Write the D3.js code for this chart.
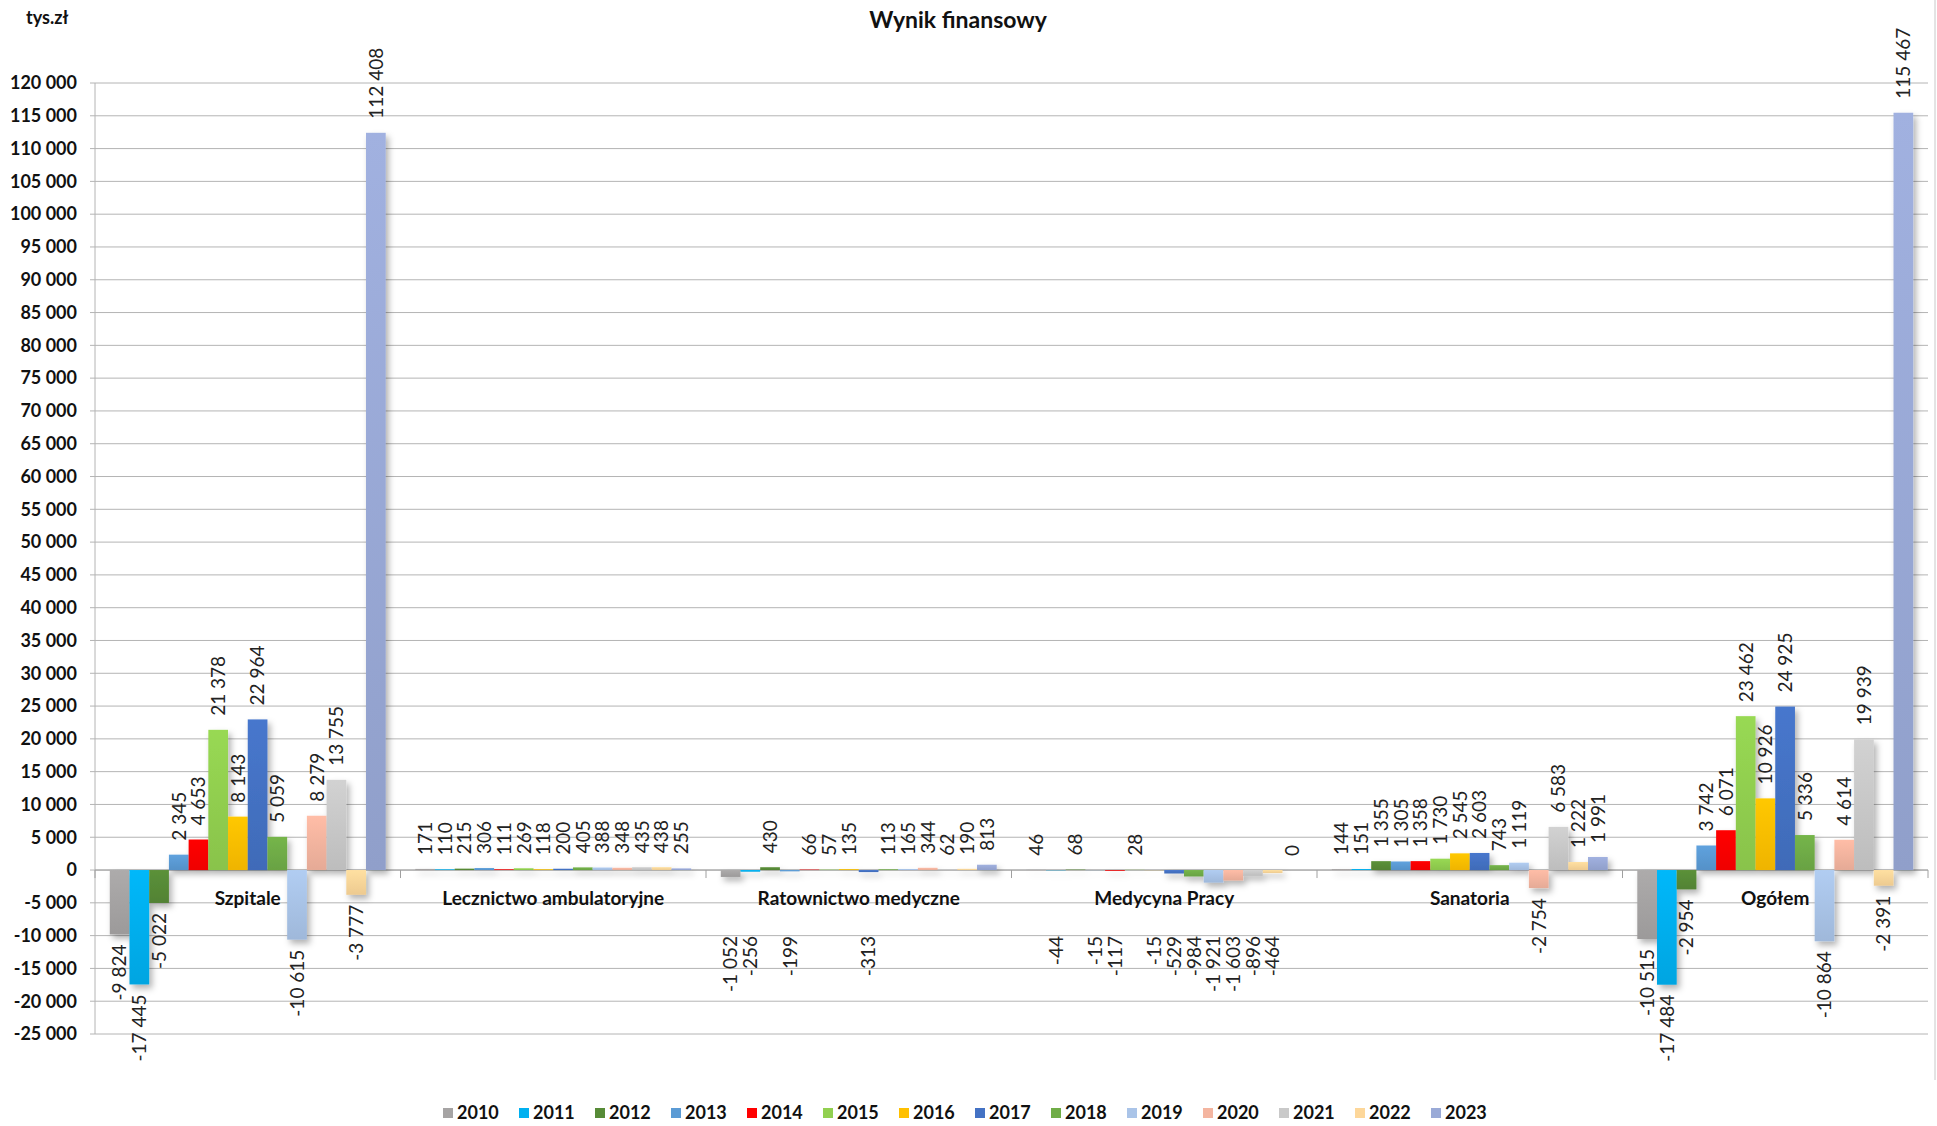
<!DOCTYPE html>
<html><head><meta charset="utf-8">
<script src="https://cdn.jsdelivr.net/npm/d3@7"></script>
<style>body{margin:0;background:#fff} svg{display:block}</style>
</head><body>
<script>
const title = "Wynik finansowy";
const unitLabel = "tys.zł";
const categories = ["Szpitale","Lecznictwo ambulatoryjne","Ratownictwo medyczne","Medycyna Pracy","Sanatoria","Ogółem"];
const years = ["2010","2011","2012","2013","2014","2015","2016","2017","2018","2019","2020","2021","2022","2023"];
const szpitale     = [-9824,-17445,-5022,2345,4653,21378,8143,22964,5059,-10615,8279,13755,-3777,112408];
const ambulatoryjne= [171,110,215,306,111,269,118,200,405,388,348,435,438,255];
const ratownictwo  = [-1052,-256,430,-199,66,57,135,-313,113,165,344,62,190,813];
const medycyna     = [46,-44,68,-15,-117,28,-15,-529,-984,-1921,-1603,-896,-464,0];
const sanatoria    = [144,151,1355,1305,1358,1730,2545,2603,743,1119,-2754,6583,1222,1991];
const ogolem       = [-10515,-17484,-2954,3742,6071,23462,10926,24925,5336,-10864,4614,19939,-2391,115467];
const yTicks = d3.range(-25000, 120001, 5000);
const colors = ["#a6a4a4","#00b0f0","#578b37","#5b9bd5","#ff0000","#92d050","#ffc000","#4472c4","#70ad47","#aac4e8","#f4b5a0","#c9c9c9","#fdd79a","#9aaad7"];

const valuesByCat = [szpitale, ambulatoryjne, ratownictwo, medycyna, sanatoria, ogolem];
const W = 1937, H = 1126;
const svg = d3.select("body").append("svg").attr("width", W).attr("height", H)
  .style("font-family", "Lato, 'Open Sans', sans-serif");

const defs = svg.append("defs");
const f = defs.append("filter").attr("id","sh").attr("x","-30%").attr("y","-30%").attr("width","160%").attr("height","160%");
f.append("feDropShadow").attr("dx",3).attr("dy",4).attr("stdDeviation",3).attr("flood-color","#000").attr("flood-opacity",0.3);
colors.forEach((c,i)=>{
  const g = defs.append("linearGradient").attr("id","g"+i).attr("x1",0).attr("y1",0).attr("x2",0).attr("y2",1);
  g.append("stop").attr("offset","0%").attr("stop-color", d3.color(c).brighter(0.12));
  g.append("stop").attr("offset","100%").attr("stop-color", d3.color(c).darker(0.18));
});

const left = 95, right = 1928;
const y = d3.scaleLinear().domain([-25000,120000]).range([1034,83]);
const x0 = d3.scaleBand().domain(categories).range([left,right]).paddingInner(0).paddingOuter(0);
const x1 = d3.scaleBand().domain(years).range([0,x0.bandwidth()]).paddingInner(0).paddingOuter(0.75);
const fmt = v => d3.format(",")(v).replace(/,/g," ").replace("−","-");

// chart border right
svg.append("line").attr("x1",1935).attr("x2",1935).attr("y1",0).attr("y2",1080).attr("stroke","#c8c8c8");

// gridlines
svg.append("g").selectAll("line").data(yTicks).join("line")
  .attr("x1",left-5).attr("x2",right).attr("y1",d=>y(d)).attr("y2",d=>y(d))
  .attr("stroke","#b4b4b4").attr("stroke-width",1);
// y axis line
svg.append("line").attr("x1",left).attr("x2",left).attr("y1",y(120000)).attr("y2",y(-25000)).attr("stroke","#b4b4b4");
// y labels
svg.append("g").selectAll("text").data(yTicks).join("text")
  .attr("x",77).attr("y",d=>y(d)).attr("dy","0.35em").attr("text-anchor","end")
  .attr("font-weight","bold").attr("font-size",18).attr("fill","#111").text(fmt);

// zero axis + category ticks
const y0 = y(0);
svg.append("line").attr("x1",left).attr("x2",right).attr("y1",y0).attr("y2",y0).attr("stroke","#a0a0a0");
svg.append("g").selectAll("line").data(d3.range(categories.length+1)).join("line")
  .attr("x1",i=>left+i*x0.bandwidth()).attr("x2",i=>left+i*x0.bandwidth())
  .attr("y1",y0).attr("y2",y0+8).attr("stroke","#a0a0a0");

const flat = [];
categories.forEach((c,ci)=>years.forEach((yr,yi)=>flat.push({c,ci,yr,yi,v:valuesByCat[ci][yi]})));

// bars
svg.append("g").attr("filter","url(#sh)").selectAll("rect").data(flat).join("rect")
  .attr("x",d=>x0(d.c)+x1(d.yr)).attr("width",x1.bandwidth())
  .attr("y",d=>Math.min(y(d.v),y0)).attr("height",d=>Math.abs(y(d.v)-y0))
  .attr("fill",d=>`url(#g${d.yi})`);

// category labels
svg.append("g").selectAll("text").data(categories).join("text")
  .attr("x",c=>x0(c)+x0.bandwidth()/2).attr("y",905).attr("text-anchor","middle")
  .attr("font-weight","bold").attr("font-size",19).attr("fill","#111").text(c=>c);

// value labels
svg.append("g").selectAll("text").data(flat).join("text")
  .attr("transform",d=>{
    const cx = x0(d.c)+x1(d.yr)+x1.bandwidth()/2;
    let yy;
    if (d.v >= 0) yy = y(d.v)-14;
    else {
      const len = y(d.v)-y0;
      yy = len < 14 ? y0+66 : y(d.v)+10;
    }
    return `translate(${cx},${yy}) rotate(-90)`;
  })
  .attr("dy","0.36em")
  .attr("text-anchor",d=>d.v>=0?"start":"end")
  .attr("font-size",19).attr("fill","#222").text(d=>fmt(d.v));

// title and unit
svg.append("text").attr("x",958).attr("y",28).attr("text-anchor","middle")
  .attr("font-weight","bold").attr("font-size",23).attr("fill","#111").text(title);
svg.append("text").attr("x",26).attr("y",24)
  .attr("font-weight","bold").attr("font-size",18).attr("fill","#111").text(unitLabel);

// legend
const lg = svg.append("g").selectAll("g").data(years).join("g")
  .attr("transform",(d,i)=>`translate(${443+i*76},1113)`);
lg.append("rect").attr("x",0).attr("y",-5).attr("width",10).attr("height",10).attr("fill",(d,i)=>colors[i]);
lg.append("text").attr("x",14).attr("dy","0.36em").attr("font-weight","bold").attr("font-size",18).attr("fill","#111").text(d=>d);
</script>
</body></html>
